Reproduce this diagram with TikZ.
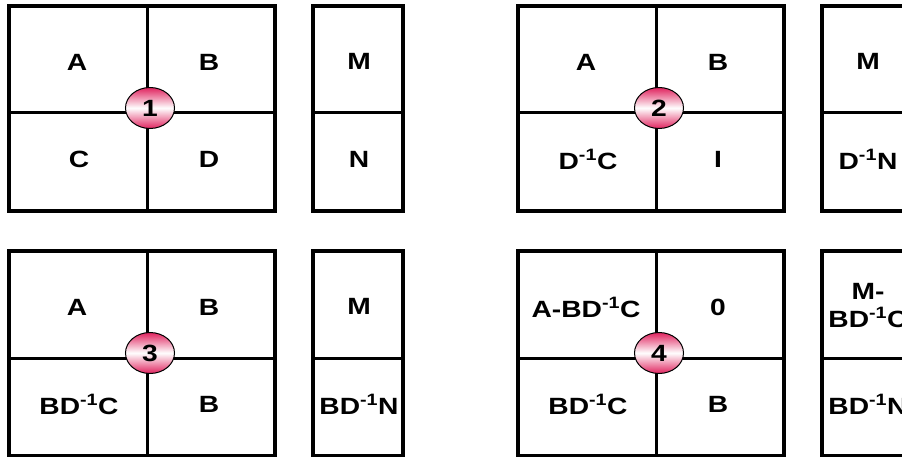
\documentclass[tikz,border=0pt]{standalone}
\usepackage{fontspec}
\setmainfont{Liberation Sans}[FakeStretch=1.2]
\usetikzlibrary{shapes.geometric}
\definecolor{ovalred}{HTML}{E0245F}
\tikzset{
  cell/.style={align=center, inner sep=0pt, font=\bfseries\fontsize{23.5}{28}\selectfont},
  frame/.style={draw=black, line width=3.5pt},
  divider/.style={draw=black, line width=3pt},
  stagenum/.style={ellipse, draw=black, line width=1pt, minimum width=49pt,
    minimum height=41pt, inner sep=0pt, top color=ovalred, bottom color=ovalred,
    middle color=white, font=\bfseries\fontsize{23.5}{23.5}\selectfont},
}
\begin{document}
\begin{tikzpicture}[x=1pt, y=-1pt]
  \useasboundingbox (0,0) rectangle (902,457);
  \clip (0,0) rectangle (902,457);

  % ---- one panel per step: block matrix, then right-hand side -------------
  % #1 x, #2 y of the panel, #3 step, #4-#7 the four blocks, #8-#9 rhs
  \foreach \px/\py/\nr/\la/\lb/\lc/\ld/\lm/\ln in {%
    9/6/1/A/B/C/D/M/N,
    518/6/2/A/B/{D\textsuperscript{-1}C}/I/M/{D\textsuperscript{-1}N},
    9/251/3/A/B/{BD\textsuperscript{-1}C}/B/M/{BD\textsuperscript{-1}N},
    518/251/4/{A-BD\textsuperscript{-1}C}/0/{BD\textsuperscript{-1}C}/B/%
      {M-\\BD\textsuperscript{-1}C}/{BD\textsuperscript{-1}N}%
  }{
    \begin{scope}[shift={(\px,\py)}]
      % matrix
      \draw[divider] (138,0) -- (138,205);
      \draw[divider] (0,107) -- (266,107);
      \draw[frame] (0,0) rectangle (266,205);
      % rhs
      \draw[divider] (304,107) -- (394,107);
      \draw[frame] (304,0) rectangle (394,205);
      % step number on the crossing
      \node[stagenum] (step\nr) at (141,102) {\nr};
      % block labels
      \node[cell] (a\nr) at (68,56) {\la};
      \node[cell] (b\nr) at (200,56) {\lb};
      \node[cell] (c\nr) at (70,153) {\lc};
      \node[cell] (d\nr) at (200,153) {\ld};
      \node[cell] (m\nr) at (350,55) {\lm};
      \node[cell] (n\nr) at (350,153) {\ln};
    \end{scope}
  }
\end{tikzpicture}
\end{document}
